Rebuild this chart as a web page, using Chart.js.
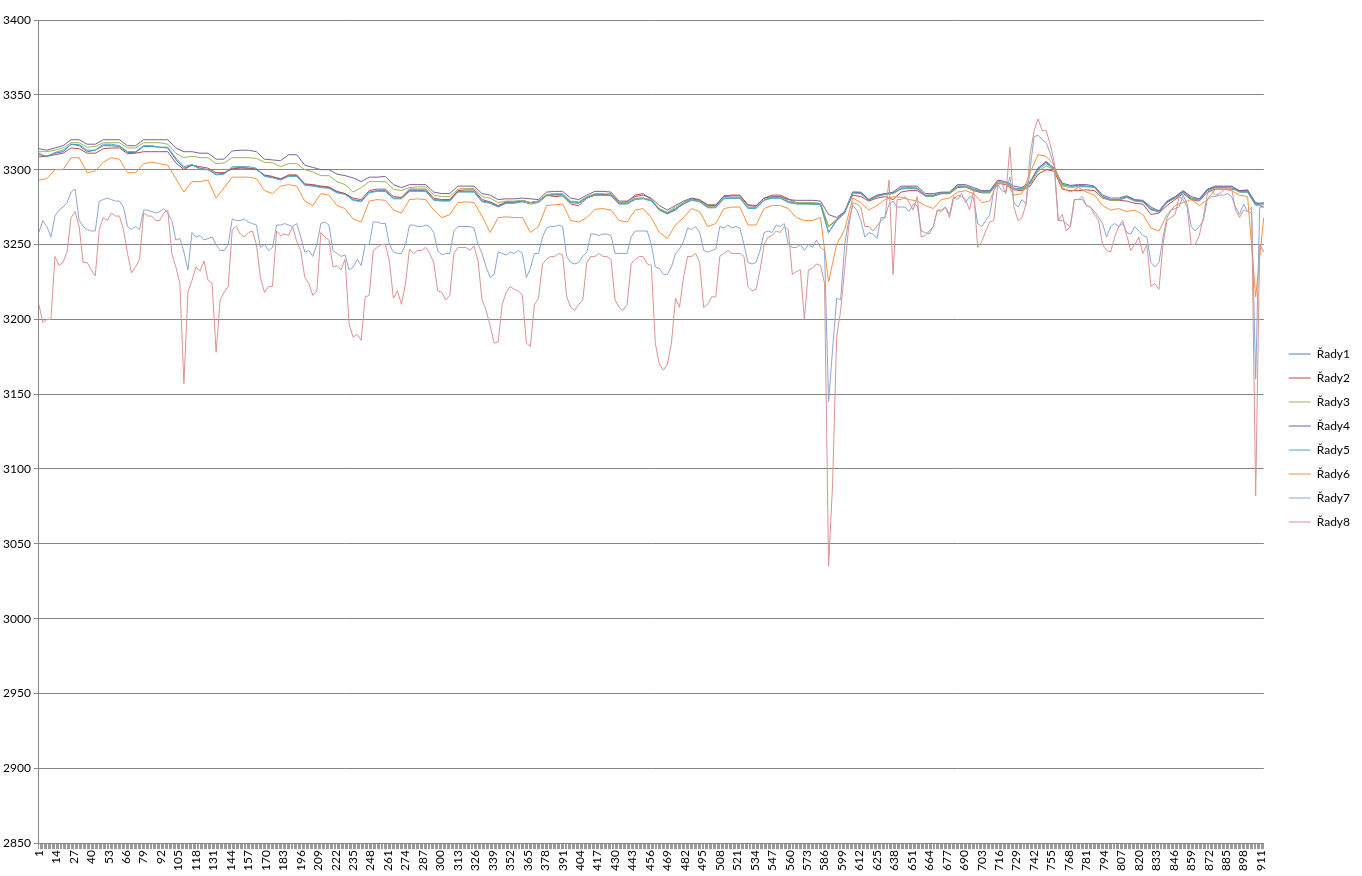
<!DOCTYPE html>
<html>
<head>
<meta charset="utf-8">
<script src="https://cdn.jsdelivr.net/npm/chart.js@4.4.0/dist/chart.umd.min.js"></script>
<style>
  html, body { margin: 0; padding: 0; background: #fff; }
  #wrap { width: 1362px; height: 876px; }
</style>
</head>
<body>
<div id="wrap"><canvas id="myChart"></canvas></div>
<script>
'use strict'

// row numbers 1..913; values read every 6th row (noisy series 7, 8 also in between)
const categories = []
for (let i = 1; i <= 913; i++) categories.push(i)
const sampleRows = []
for (let r = 1; r <= 913; r += 6) sampleRows.push(r)
const midRows = []
for (let r = 4; r <= 913; r += 6) midRows.push(r)

const seriesNames = ['Řady1', 'Řady2', 'Řady3', 'Řady4', 'Řady5', 'Řady6', 'Řady7', 'Řady8']
const seriesColors = ['#4A7EBB', '#BE4B48', '#98B954', '#7D60A0', '#46AAC5', '#F69240', '#8DA6D0', '#D99391']

const rady1 = [3310, 3309, 3311, 3312, 3317, 3316, 3312, 3313, 3316, 3316, 3315.5, 3311.5, 3311.5, 3315.5, 3315.5, 3315, 3314.5, 3306.7, 3301, 3303,
  3301, 3300, 3297, 3297.5, 3301, 3301.5, 3301, 3300.5, 3296, 3295, 3294, 3296, 3296, 3290, 3289.5, 3288.5, 3288, 3285, 3284, 3280,
  3279, 3285, 3286, 3286, 3281, 3281, 3286, 3286, 3286, 3280, 3279.5, 3279.5, 3285.5, 3285.5, 3285.5, 3279, 3278, 3275.5, 3278, 3278,
  3279, 3278, 3278.5, 3283, 3283.5, 3283.5, 3278.5, 3278, 3281.5, 3283.5, 3283.5, 3283, 3277.5, 3277.5, 3280.5, 3281, 3279.5, 3273.5, 3271, 3274,
  3277, 3280, 3279, 3275, 3275, 3281, 3281, 3281, 3274.5, 3274.5, 3280, 3281, 3281, 3278.5, 3277.5, 3277.5, 3277.5, 3277, 3258,
  3266, 3271, 3285, 3284.5, 3280, 3282.5, 3284, 3284.5, 3287.5, 3288, 3287.5, 3283, 3283, 3284.5, 3284.5, 3289, 3289, 3287, 3285.5, 3285.5,
  3292, 3291.5, 3287.5, 3287, 3291, 3301, 3305, 3300, 3290, 3289, 3289.5, 3289, 3288.5, 3282, 3280, 3280, 3282, 3279.5, 3279, 3274,
  3272, 3278.5, 3281.5, 3285.5, 3281, 3280, 3286.5, 3288.5, 3288.5, 3288.5, 3285.5, 3285.5, 3277, 3278]

const rady2 = [3308.5, 3309, 3310, 3311, 3314.5, 3314, 3311, 3311, 3314, 3314.5, 3314.5, 3310.7, 3311, 3312, 3312, 3312, 3312, 3304.5, 3300, 3303,
  3302, 3301, 3298, 3298, 3300.5, 3301, 3301, 3300, 3296.5, 3295.5, 3293.5, 3296.5, 3296.5, 3290.5, 3290, 3289, 3288.5, 3285.5, 3284, 3281,
  3280, 3286, 3287, 3287, 3282, 3281.5, 3287, 3287, 3287, 3281, 3280, 3280, 3286, 3286.5, 3286.5, 3280, 3278.5, 3276, 3278.5, 3278.5,
  3279.5, 3278, 3279, 3283, 3282, 3282.5, 3277, 3276, 3281, 3283, 3283, 3284, 3278, 3278.5, 3283, 3284, 3280, 3273, 3270.5, 3273,
  3278, 3280.5, 3279.5, 3276, 3276, 3282.5, 3283, 3283, 3276.5, 3276, 3281, 3283, 3283, 3280.5, 3278, 3277.5, 3277, 3277, 3262,
  3266, 3272, 3283, 3282, 3279, 3281, 3282, 3280, 3285, 3286, 3286, 3282.5, 3282.5, 3284, 3284, 3288, 3288.5, 3286, 3284.5, 3284.5,
  3291, 3290, 3286.5, 3286, 3289, 3297, 3300, 3299, 3287, 3286, 3286, 3286.5, 3286, 3281, 3279.5, 3279.5, 3279, 3277.5, 3277, 3270,
  3271, 3276, 3280, 3284, 3280, 3279, 3285, 3287, 3287, 3287, 3286, 3286.5, 3277, 3275]

const rady3 = [3312, 3312, 3313, 3314.5, 3318, 3318, 3315, 3315.5, 3318, 3318, 3318, 3314.5, 3314.5, 3318, 3318, 3318, 3317, 3311, 3308, 3309,
  3308, 3308, 3304, 3304.5, 3308, 3308, 3308, 3307.5, 3305, 3304.5, 3302, 3304, 3304, 3300, 3298.5, 3296, 3296, 3292, 3290, 3285,
  3288, 3292, 3292, 3292, 3287, 3286, 3288, 3288.5, 3288.5, 3283, 3282, 3282, 3287, 3287.5, 3287.5, 3282, 3281, 3278, 3279, 3279,
  3279.5, 3278, 3279, 3283.5, 3284, 3284, 3279, 3278.5, 3282, 3284, 3284, 3283.5, 3278, 3278, 3281, 3281, 3280, 3274, 3271.5, 3275,
  3278, 3280, 3279, 3275.5, 3275.5, 3281, 3281.5, 3281.5, 3275, 3274.5, 3280, 3281.5, 3282, 3279, 3278, 3278, 3278, 3277.5, 3262,
  3267, 3272, 3284.5, 3284, 3279.5, 3282.5, 3283.5, 3284, 3288, 3288.5, 3288, 3282, 3282, 3284.5, 3284.5, 3289, 3289, 3287, 3285, 3285,
  3291, 3291, 3287, 3286.5, 3290, 3299, 3302.5, 3300, 3289, 3288, 3288.5, 3288.5, 3288, 3281.5, 3279.5, 3279.5, 3281.5, 3279, 3278.5, 3273,
  3272, 3278, 3281, 3285, 3281, 3280, 3286, 3288, 3288, 3288, 3285, 3285, 3276, 3276.5]

const rady4 = [3314, 3313, 3314.5, 3316, 3320, 3320, 3317, 3317, 3320, 3320, 3320, 3316, 3316, 3320, 3320, 3320, 3320, 3314.5, 3312, 3312,
  3311, 3311, 3307, 3307, 3312.5, 3313, 3313, 3312, 3307, 3306.5, 3306, 3310, 3310, 3303, 3301.5, 3300, 3300, 3297, 3296, 3294.5,
  3292, 3295, 3295, 3295.5, 3290, 3288, 3290, 3290, 3290, 3285, 3284, 3284, 3289, 3289, 3289, 3284, 3283, 3280, 3280.5, 3280.5,
  3281, 3280.5, 3280, 3285, 3285.5, 3285.5, 3281, 3280, 3283, 3285.5, 3285.5, 3285, 3279, 3279, 3282, 3283, 3281, 3276, 3273, 3276,
  3279, 3281, 3280, 3276.5, 3276.5, 3282, 3282.5, 3282.5, 3276, 3275.5, 3281, 3282, 3282, 3280, 3279.5, 3279.5, 3279.5, 3279, 3270,
  3268, 3272, 3285, 3285, 3280, 3283, 3284, 3285, 3289, 3289, 3289, 3284, 3284, 3285, 3285, 3290, 3290, 3288, 3286, 3286,
  3293, 3292, 3289, 3288, 3292, 3301, 3305.5, 3301, 3291, 3289.5, 3290, 3290, 3289, 3283, 3281, 3281, 3282.5, 3280, 3279.5, 3275,
  3272.5, 3279, 3282, 3286, 3282, 3280.5, 3287, 3289, 3289, 3289, 3286, 3286, 3278, 3277]

const rady5 = [3311, 3308.5, 3311.5, 3313, 3317, 3316.7, 3313, 3313, 3317, 3317, 3316, 3312, 3312, 3316, 3316, 3315, 3315, 3307.8, 3302, 3303.5,
  3300, 3300, 3296.5, 3297, 3302, 3302, 3302, 3301, 3295.5, 3294.5, 3293, 3295.5, 3295.5, 3289.5, 3289, 3288, 3287.5, 3284.5, 3283.5, 3279.5,
  3278.5, 3284.5, 3285.5, 3285.5, 3280.5, 3280.5, 3285.5, 3285.5, 3285.5, 3279.5, 3279, 3279, 3285, 3285, 3285, 3278.5, 3277.5, 3275, 3277.5, 3277.5,
  3278.5, 3277, 3278, 3282.5, 3283, 3283, 3278, 3277.5, 3281, 3283, 3283, 3282.5, 3277, 3277, 3280, 3280.5, 3279, 3273, 3270.5, 3273.5,
  3277, 3279.5, 3278.5, 3274.5, 3274.5, 3280.5, 3281, 3281, 3274, 3274, 3279.5, 3281, 3281, 3278, 3277, 3277, 3277, 3276.5, 3258,
  3266.5, 3271.5, 3284.5, 3284, 3279.5, 3282, 3283.5, 3284, 3287, 3287.5, 3287, 3282.5, 3282.5, 3284, 3284, 3288.5, 3288.5, 3286.5, 3285, 3285,
  3292, 3291.5, 3287.5, 3287, 3291.5, 3300, 3304, 3300.5, 3290, 3289, 3289, 3289, 3288.5, 3282, 3280, 3280, 3281.5, 3279, 3278.5, 3273.5,
  3271.5, 3278, 3281, 3285, 3280.5, 3279.5, 3286, 3288, 3288, 3288, 3285, 3285, 3276.5, 3277.5]

const rady6 = [3293, 3294, 3300, 3300, 3308, 3308, 3298, 3299, 3305, 3308, 3307, 3298, 3298, 3304, 3305, 3304, 3303, 3294, 3285, 3292,
  3292, 3293, 3281, 3288, 3295, 3295, 3295, 3294, 3286, 3284, 3289, 3290, 3289, 3279, 3276, 3284, 3283, 3276, 3274, 3267,
  3265, 3279, 3280, 3279.5, 3273, 3271, 3280, 3280.5, 3280, 3273, 3268, 3270, 3278, 3278.5, 3278, 3269, 3258, 3268, 3268.5, 3268,
  3268, 3258, 3262, 3276, 3276.5, 3277, 3266, 3265, 3268, 3273.5, 3274, 3273, 3266, 3265, 3273, 3274, 3268, 3258, 3254, 3263,
  3268, 3274, 3272, 3262, 3264, 3274, 3275, 3275, 3263, 3263, 3274, 3276, 3276, 3274, 3268, 3266, 3266, 3268, 3225,
  3250, 3260, 3281, 3278, 3273, 3276, 3280, 3282, 3281.5, 3280, 3279, 3276, 3274, 3280, 3281, 3285, 3286, 3284, 3278, 3279,
  3292, 3292, 3283, 3284, 3298, 3310, 3309, 3303, 3288, 3285, 3288, 3285, 3283, 3276, 3273, 3274, 3272, 3273, 3270, 3261,
  3259, 3270, 3276, 3278, 3280, 3276, 3280, 3287, 3287, 3286, 3283, 3282, 3215, 3268]

const rady7 = [3258, 3262, 3269, 3275, 3285, 3266, 3260, 3259, 3280, 3280, 3279, 3262, 3262, 3273, 3272, 3272, 3271, 3253, 3245, 3258,
  3256, 3254, 3250, 3246, 3267, 3266, 3265, 3263, 3250, 3248, 3263, 3263, 3264, 3245, 3242, 3264, 3263, 3244, 3243, 3235,
  3236, 3250, 3265, 3264, 3245, 3244, 3263, 3262, 3263, 3258, 3243, 3244, 3262, 3262, 3261, 3244, 3228, 3245, 3243, 3244,
  3244, 3234, 3244, 3261, 3262, 3262, 3238, 3238, 3245, 3257, 3257, 3256, 3244, 3244, 3259, 3259, 3250, 3234, 3230, 3244,
  3252, 3260, 3258, 3245, 3247, 3261, 3261, 3261, 3238, 3238, 3258, 3258, 3262, 3250, 3248, 3246, 3248, 3248, 3145,
  3214, 3250, 3276, 3266, 3258, 3254, 3268, 3279, 3275, 3272, 3276, 3258, 3262, 3272, 3270, 3280, 3278, 3281, 3262, 3270,
  3290, 3285, 3278, 3280, 3300, 3323, 3318, 3302, 3266, 3262, 3280, 3276, 3272, 3264, 3262, 3262, 3258, 3262, 3256, 3238,
  3238, 3268, 3274, 3283, 3262, 3262, 3280, 3282, 3283, 3282, 3270, 3272, 3160, 3275]

// series 7 between the rows above (rows 4, 10, 16 ...)
const rady7mid = [3266, 3255, 3273, 3278, 3287, 3262, 3259, 3279, 3281, 3279, 3275, 3260, 3260, 3273, 3271, 3274, 3266, 3254, 3233,
  3255, 3253, 3255, 3246, 3250, 3266, 3267, 3264, 3248, 3246, 3263, 3264, 3262, 3255, 3246, 3250, 3265, 3246, 3242, 3233,
  3240,
  3250, 3265, 3264, 3250, 3244, 3250, 3263, 3262, 3262, 3246, 3244, 3259, 3262, 3262, 3250, 3235, 3230, 3244, 3245,
  3246, 3228, 3244, 3255, 3262, 3263, 3242, 3237, 3242, 3257, 3256, 3257, 3244, 3244, 3255, 3259, 3259, 3235, 3230, 3235,
  3247, 3261, 3262, 3246, 3246, 3262, 3263, 3262, 3250, 3237, 3246, 3259, 3263, 3264, 3248, 3250, 3250, 3253, 3246,
  3180,
  3213, 3266, 3273, 3255, 3257, 3268, 3277, 3275, 3275, 3277, 3259, 3257, 3273, 3275, 3282, 3284, 3282, 3264, 3266, 3286,
  3286, 3295, 3275, 3277, 3322, 3320, 3311, 3266, 3264, 3280, 3280, 3275, 3268, 3255, 3264, 3264, 3257, 3259, 3255, 3235,
  3255, 3273, 3275, 3277, 3259, 3266, 3282, 3283, 3284, 3275, 3277, 3275, 3275]

const rady8 = [3210, 3200, 3242, 3238, 3268, 3262, 3238, 3229, 3268, 3271, 3269, 3244, 3235, 3271, 3269, 3266, 3273, 3235, 3157, 3226,
  3232, 3226, 3178, 3218, 3260, 3257, 3258, 3250, 3218, 3222, 3256, 3256, 3252, 3228, 3216, 3258, 3253, 3236, 3240, 3188,
  3186, 3216, 3248, 3250, 3214, 3210, 3247, 3246, 3248, 3238, 3218, 3216, 3248, 3248, 3249, 3213, 3196, 3185, 3218, 3220,
  3216, 3182, 3214, 3240, 3242, 3243, 3208, 3210, 3238, 3242, 3242, 3240, 3208, 3210, 3240, 3242, 3236, 3170, 3170, 3214,
  3228, 3242, 3238, 3210, 3215, 3244, 3244, 3244, 3222, 3220, 3250, 3256, 3258, 3260, 3232, 3200, 3234, 3236, 3035,
  3188, 3234, 3278, 3275, 3262, 3262, 3268, 3230, 3280, 3278, 3282, 3256, 3262, 3273, 3268, 3283, 3280, 3286, 3252, 3265,
  3290, 3284, 3275, 3268, 3310, 3334, 3326, 3305, 3270, 3262, 3280, 3276, 3270, 3250, 3245, 3262, 3256, 3250, 3244, 3222,
  3220, 3266, 3270, 3280, 3250, 3256, 3284, 3283, 3286, 3288, 3268, 3272, 3082, 3245]

// series 8 between the rows above (rows 4, 10, 16 ...)
const rady8mid = [3198, 3200, 3236, 3245, 3272, 3238, 3233, 3260, 3266, 3269, 3260, 3231, 3240, 3269, 3266, 3271, 3244, 3224, 3218,
  3235, 3239, 3224, 3213, 3222, 3262, 3255, 3259, 3228, 3222, 3259, 3257, 3262, 3246, 3224, 3219, 3255, 3235, 3233, 3197,
  3190,
  3215, 3246, 3250, 3239, 3219, 3224, 3244, 3246, 3244, 3219, 3213, 3244, 3248, 3246, 3239, 3206, 3184, 3210, 3222,
  3219, 3184, 3210, 3237, 3242, 3244, 3215, 3206, 3213, 3242, 3244, 3242, 3213, 3206, 3237, 3242, 3237, 3184, 3166, 3184,
  3208, 3242, 3244, 3208, 3215, 3242, 3246, 3244, 3242, 3219, 3233, 3255, 3259, 3262, 3230, 3233, 3233, 3237, 3224,
  3090,
  3206, 3262, 3277, 3262, 3259, 3266, 3293, 3280, 3282, 3273, 3255, 3259, 3273, 3275, 3280, 3282, 3273, 3248, 3259, 3266,
  3291, 3315, 3266, 3277, 3326, 3326, 3317, 3266, 3259, 3280, 3282, 3275, 3266, 3246, 3255, 3266, 3246, 3255, 3250, 3224,
  3250, 3268, 3282, 3275, 3250, 3268, 3286, 3284, 3288, 3273, 3273, 3271, 3250]

const yTicks = [2850, 2900, 2950, 3000, 3050, 3100, 3150, 3200, 3250, 3300, 3350, 3400]
const labelEvery = 13

const allSeries = [rady1, rady2, rady3, rady4, rady5, rady6, rady7, rady8]
const midSeries = [null, null, null, null, null, null, rady7mid, rady8mid]

const toPoints = (values, rows) => values.map((v, i) => ({ x: rows[i], y: v }))

const buildPoints = (i) => {
  let pts = toPoints(allSeries[i], sampleRows)
  if (midSeries[i]) {
    pts = pts.concat(toPoints(midSeries[i], midRows))
    pts.sort((a, b) => a.x - b.x)
  }
  return pts
}

const font = { family: 'Lato', size: 12 }
const gridGray = '#868686'

// nudge the legend a bit right and up, like the excel layout
const legendNudge = {
  id: 'legendNudge',
  afterLayout: (chart) => {
    const lg = chart.legend
    lg.left += 13
    lg.right += 13
    lg.top -= 8
    lg.bottom -= 8
  }
}

const ctx = document.getElementById('myChart')

const myChart = new Chart(ctx, {
  type: 'line',
  data: {
    labels: categories,
    datasets: allSeries.map((values, i) => {
      return {
        label: seriesNames[i],
        data: buildPoints(i),
        borderColor: seriesColors[i],
        backgroundColor: seriesColors[i],
        pointBorderColor: seriesColors[i],
        pointBackgroundColor: seriesColors[i],
        borderWidth: 1,
        pointRadius: 0,
        tension: 0,
        // later series on top, like the original
        order: allSeries.length - i
      }
    })
  },
  options: {
    responsive: true,
    maintainAspectRatio: false,
    animation: false,
    layout: { padding: { top: 20, right: 15, bottom: 4, left: 0 } },
    plugins: {
      tooltip: { enabled: false },
      legend: {
        position: 'right',
        labels: {
          usePointStyle: true,
          pointStyle: 'line',
          pointStyleWidth: 22,
          padding: 12,
          color: '#000',
          font: font,
          sort: (a, b) => a.datasetIndex - b.datasetIndex
        }
      }
    },
    scales: {
      x: {
        type: 'category',
        grid: { drawOnChartArea: false, tickLength: 6, color: '#9a9a9a' },
        border: { color: gridGray },
        ticks: {
          autoSkip: false,
          minRotation: 90,
          maxRotation: 90,
          padding: 1,
          color: '#000',
          font: font,
          callback: function (value, index) {
            return index % labelEvery === 0 ? String(categories[index]) : ''
          }
        }
      },
      y: {
        min: yTicks[0],
        max: yTicks[yTicks.length - 1],
        afterBuildTicks: (scale) => { scale.ticks = yTicks.map((v) => ({ value: v })) },
        grid: { color: gridGray, tickLength: 5 },
        border: { color: gridGray },
        ticks: { color: '#000', font: font, padding: 3, callback: (v) => String(v) }
      }
    }
  },
  plugins: [legendNudge]
})
</script>
</body>
</html>
